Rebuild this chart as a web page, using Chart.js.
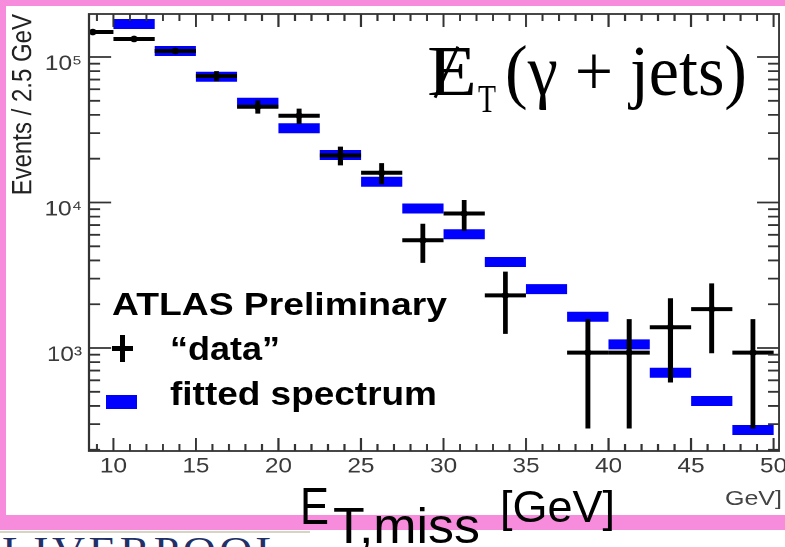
<!DOCTYPE html>
<html>
<head>
<meta charset="utf-8">
<script src="https://cdn.jsdelivr.net/npm/chart.js@4.4.1/dist/chart.umd.min.js"></script>
<style>
  html, body { margin: 0; padding: 0; background: #fff; }
  body { width: 785px; height: 547px; position: relative; overflow: hidden; font-family: 'Liberation Sans', Arial, sans-serif; }
  .pink { position: absolute; background: #f78bdc; }
  /* the ROOT picture on the slide is stretched sideways, so the chart is too */
  #plot { position: absolute; left: 0; top: 0; width: 677px; height: 547px; transform: scaleX(1.16); transform-origin: 0 0; }
  .txt { position: absolute; white-space: nowrap; line-height: 1; transform-origin: 0 0; color: #000; }
  .serif { font-family: 'Liberation Serif', 'Times New Roman', serif; }
  .bold { font-weight: bold; }
  .blk { position: absolute; background: #000; }
</style>
</head>
<body>
<div class="pink" style="left:0;top:0;width:785px;height:6px"></div>
<div class="pink" style="left:0;top:0;width:6px;height:530px"></div>
<div style="position:absolute;left:0;top:531px;width:310px;height:2px;background:#d9d3c4"></div>
<div class="txt serif" data-w="285" style="left:2px;top:531px;font-size:40px;color:#22306a;letter-spacing:3px">LIVERPOOL</div>

<div id="plot"><canvas id="chart" width="677" height="547"></canvas></div>

<div class="pink" style="left:0;top:515px;width:785px;height:15px"></div>

<!-- title -->
<div class="txt serif" data-w="50" style="left:427px;top:35px;font-size:72px">E</div>
<div class="blk" style="left:445px;top:44px;width:2.5px;height:56px;transform:rotate(24deg)"></div>
<div class="txt serif" data-w="18" style="left:478px;top:78px;font-size:41px">T</div>
<div class="txt serif" data-w="242" style="left:505px;top:35px;font-size:72px">(γ + jets)</div>

<!-- legend -->
<div class="txt bold" data-w="335" style="left:112px;top:289px;font-size:31px">ATLAS Preliminary</div>
<div class="blk" style="left:112px;top:346px;width:21px;height:5px"></div>
<div class="blk" style="left:120px;top:335px;width:5px;height:27px"></div>
<div class="txt bold" data-w="110" style="left:170px;top:332px;font-size:33px">“data”</div>
<div style="position:absolute;left:106px;top:395px;width:31px;height:14px;background:#0000ff"></div>
<div class="txt bold" data-w="267" style="left:170px;top:377px;font-size:33px">fitted spectrum</div>

<!-- axis titles -->
<div class="txt" data-w="57" style="left:725px;top:488px;font-size:20px;color:#444">GeV]</div>
<div class="txt" data-w="29" style="left:300px;top:480px;font-size:52px">E</div>
<div class="txt" data-w="147" style="left:333px;top:501px;font-size:50px">T,miss</div>
<div class="txt" data-w="115" style="left:500px;top:485px;font-size:44px">[GeV]</div>

<script>
// bins of 2.5 GeV
const binWidth = 2.5;
const binCenters = [8.75, 11.25, 13.75, 16.25, 18.75, 21.25, 23.75, 26.25, 28.75,
                    31.25, 33.75, 36.25, 38.75, 41.25, 43.75, 46.25, 48.75];
const dataValues = [148500, 133000, 110000, 74000, 45500, 39500, 21100, 16000, 5500,
                    8400, 2300, null, 930, 930, 1390, 1850, 930];
const dataErrors = [4000, 4000, 4500, 5900, 4700, 4700, 3100, 2650, 1650,
                    2000, 1050, null, 650, 650, 810, 930, 650];
const fittedValues = [null, 168600, 110000, 73200, 48500, 32400, 21200, 13900, 9100,
                      6050, 3900, 2540, 1640, 1060, 676, 432, 273];

const xTickLabels = [10, 15, 20, 25, 30, 35, 40, 45, 50];
const yTickValues = [1000, 10000, 100000];
const yTickLabels = ['10³', '10⁴', '10⁵'];

// where the frame sits inside the (unstretched) canvas
const frame = { left: 76.72, right: 671.55, top: 14, bottom: 451 };

Chart.defaults.font.family = "'Liberation Sans', Arial, sans-serif";

function halfBinPx(chart) {
  const xs = chart.scales.x;
  return Math.abs(xs.getPixelForValue(binWidth / 2) - xs.getPixelForValue(0));
}

// vertical error bars + marker dot for the "data"
const errorBars = {
  id: 'errorBars',
  afterDatasetsDraw(chart) {
    const { ctx, chartArea: a, scales: { x, y } } = chart;
    ctx.save();
    ctx.beginPath();
    ctx.rect(a.left, a.top, a.right - a.left, a.bottom - a.top);
    ctx.clip();
    ctx.strokeStyle = '#000';
    ctx.fillStyle = '#000';
    ctx.lineWidth = 4.2;
    for (let i = 0; i < binCenters.length; i++) {
      const v = dataValues[i];
      if (v == null) continue;
      const px = x.getPixelForValue(binCenters[i]);
      const lo = Math.max(v - dataErrors[i], y.min);
      ctx.beginPath();
      ctx.moveTo(px, y.getPixelForValue(v + dataErrors[i]));
      ctx.lineTo(px, y.getPixelForValue(lo));
      ctx.stroke();
      ctx.beginPath();
      ctx.arc(px, y.getPixelForValue(v), 3.3, 0, Math.PI * 2);
      ctx.fill();
    }
    ctx.restore();
  }
};

// ROOT style frame with ticks pointing inwards on all four sides
const frameTicks = {
  id: 'frameTicks',
  afterDatasetsDraw(chart) {
    const { ctx, chartArea: a, scales: { x, y } } = chart;
    ctx.save();
    ctx.strokeStyle = '#333';
    ctx.lineWidth = 1.8;
    ctx.beginPath();
    for (const t of x.ticks) {
      if (!Number.isInteger(t.value)) continue;
      const len = t.value % 5 === 0 ? 13 : 7;
      const px = x.getPixelForValue(t.value);
      ctx.moveTo(px, a.bottom); ctx.lineTo(px, a.bottom - len);
      ctx.moveTo(px, a.top); ctx.lineTo(px, a.top + len);
    }
    for (const t of y.ticks) {
      const e = Math.floor(Math.log10(t.value) + 1e-9);
      const m = t.value / Math.pow(10, e);
      if (Math.abs(m - Math.round(m)) > 1e-6) continue;
      const len = Math.round(m) === 1 ? 19 : 9.5;
      const py = y.getPixelForValue(t.value);
      ctx.moveTo(a.left, py); ctx.lineTo(a.left + len, py);
      ctx.moveTo(a.right, py); ctx.lineTo(a.right - len, py);
    }
    ctx.stroke();
    ctx.strokeRect(a.left, a.top, a.right - a.left, a.bottom - a.top);
    ctx.restore();
  }
};

new Chart(document.getElementById('chart'), {
  type: 'scatter',
  data: {
    datasets: [
      {
        label: '“data”',
        data: binCenters.map((c, i) => ({ x: c, y: dataValues[i] })),
        pointStyle: 'line',
        pointRadius: (c) => halfBinPx(c.chart),
        pointBorderWidth: 4,
        pointBorderColor: '#000',
        pointBackgroundColor: '#000',
        clip: 0,
      },
      {
        label: 'fitted spectrum',
        data: binCenters.map((c, i) => ({ x: c, y: fittedValues[i] })),
        pointStyle: 'line',
        pointRadius: (c) => halfBinPx(c.chart),
        pointBorderWidth: 10,
        pointBorderColor: '#0000ff',
        pointBackgroundColor: '#0000ff',
        clip: 0,
      },
    ],
  },
  options: {
    responsive: false,
    devicePixelRatio: 2,
    animation: false,
    events: [],
    layout: {
      autoPadding: false,
      padding: { left: 0, right: 677 - frame.right, top: frame.top, bottom: 547 - frame.bottom - 40 },
    },
    plugins: { legend: { display: false }, tooltip: { enabled: false } },
    scales: {
      x: {
        type: 'linear',
        min: 8.52,
        max: 50.33,
        afterFit: (s) => { s.height = 40; s.paddingLeft = 0; s.paddingRight = 0; },
        grid: { display: false, drawTicks: false },
        border: { display: false },
        ticks: {
          stepSize: 1,
          includeBounds: false,
          autoSkip: false,
          maxRotation: 0,
          padding: 3,
          color: '#3a3a3a',
          font: { size: 21 },
          callback: (v) => (xTickLabels.includes(v) ? String(v) : ''),
        },
      },
      y: {
        type: 'logarithmic',
        min: 196,
        max: 197500,
        afterFit: (s) => { s.width = frame.left; s.paddingTop = 0; s.paddingBottom = 0; },
        grid: { display: false, drawTicks: false },
        border: { display: false },
        ticks: {
          autoSkip: false,
          padding: 6,
          labelOffset: 7,
          color: '#3a3a3a',
          font: { size: 21 },
          callback: (v) => {
            const k = yTickValues.indexOf(v);
            return k >= 0 ? yTickLabels[k] : '';
          },
        },
        title: {
          display: true,
          text: 'Events / 2.5 GeV',
          align: 'end',
          color: '#222',
          font: { size: 24 },
          padding: { top: 6, bottom: 0 },
        },
      },
    },
  },
  plugins: [errorBars, frameTicks],
});

// squeeze / stretch overlay texts to the widths seen on the slide
document.querySelectorAll('[data-w]').forEach((el) => {
  const w = el.getBoundingClientRect().width;
  if (w > 0) el.style.transform = 'scaleX(' + (el.dataset.w / w) + ')';
});
</script>
</body>
</html>
